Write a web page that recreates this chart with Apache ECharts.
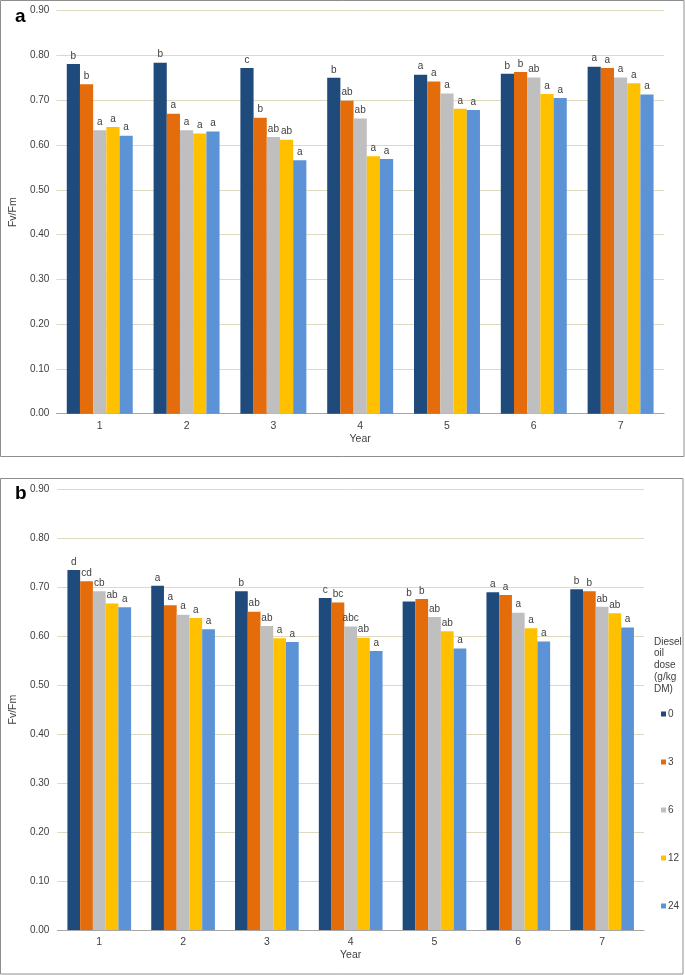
<!DOCTYPE html>
<html>
<head>
<meta charset="utf-8">
<script src="https://cdn.jsdelivr.net/npm/echarts@6/dist/echarts.min.js"></script>
<style>
  html, body { margin: 0; padding: 0; background: #fff; }
  #chart { width: 685px; height: 975px; }
</style>
</head>
<body>
<div id="chart"></div>
<script>
// ---- data ----
const years = ['1', '2', '3', '4', '5', '6', '7'];
const doses = ['0', '3', '6', '12', '24'];
const yTicks = [0, 0.9, 0.1]; // min, max, interval

// Panel a values (Fv/Fm) per dose, across years
const a0  = [0.781, 0.784, 0.772, 0.750, 0.757, 0.759, 0.775];
const a3  = [0.736, 0.670, 0.661, 0.699, 0.742, 0.763, 0.772];
const a6  = [0.633, 0.633, 0.618, 0.659, 0.715, 0.751, 0.751];
const a12 = [0.640, 0.626, 0.612, 0.575, 0.681, 0.714, 0.738];
const a24 = [0.621, 0.630, 0.566, 0.569, 0.678, 0.705, 0.713];

// Panel b values
const b0  = [0.735, 0.703, 0.692, 0.678, 0.671, 0.690, 0.696];
const b3  = [0.712, 0.663, 0.650, 0.669, 0.676, 0.684, 0.692];
const b6  = [0.692, 0.644, 0.621, 0.620, 0.639, 0.648, 0.660];
const b12 = [0.667, 0.637, 0.596, 0.597, 0.610, 0.616, 0.647];
const b24 = [0.659, 0.614, 0.588, 0.570, 0.575, 0.589, 0.618];

// significance letters
const la0  = ['b', 'b', 'c', 'b', 'a', 'b', 'a'];
const la3  = ['b', 'a', 'b', 'ab', 'a', 'b', 'a'];
const la6  = ['a', 'a', 'ab', 'ab', 'a', 'ab', 'a'];
const la12 = ['a', 'a', 'ab', 'a', 'a', 'a', 'a'];
const la24 = ['a', 'a', 'a', 'a', 'a', 'a', 'a'];

const lb0  = ['d', 'a', 'b', 'c', 'b', 'a', 'b'];
const lb3  = ['cd', 'a', 'ab', 'bc', 'b', 'a', 'b'];
const lb6  = ['cb', 'a', 'ab', 'abc', 'ab', 'a', 'ab'];
const lb12 = ['ab', 'a', 'a', 'ab', 'ab', 'a', 'ab'];
const lb24 = ['a', 'a', 'a', 'a', 'a', 'a', 'a'];

const colors = ['#1F4A7C', '#E46C0A', '#BFBFBF', '#FFC000', '#5B93D6'];

// ---- build ----
const valsA = [a0, a3, a6, a12, a24];
const valsB = [b0, b3, b6, b12, b24];
const letA = [la0, la3, la6, la12, la24];
const letB = [lb0, lb3, lb6, lb12, lb24];

const FONT = 'Liberation Sans, Arial, sans-serif';
const TXT = '#404040';
const GRID = '#DDD9C3';

function xAx(gi) {
  return {
    type: 'category', gridIndex: gi, data: years,
    name: 'Year', nameLocation: 'middle', nameGap: 20,
    nameTextStyle: { fontFamily: FONT, fontSize: 10.5, color: TXT },
    axisLine: { lineStyle: { color: '#A6A6A6', width: 1 } },
    axisTick: { show: false },
    axisLabel: { fontFamily: FONT, fontSize: 10.5, color: TXT, margin: 7 }
  };
}
function yAx(gi, gap, margin) {
  return {
    type: 'value', gridIndex: gi, min: yTicks[0], max: yTicks[1], interval: yTicks[2],
    name: 'Fv/Fm', nameLocation: 'middle', nameGap: gap,
    nameTextStyle: { fontFamily: FONT, fontSize: 10.5, color: TXT },
    axisLine: { show: false }, axisTick: { show: false },
    splitLine: { lineStyle: { color: GRID, width: 1 } },
    axisLabel: { fontFamily: FONT, fontSize: 10, color: TXT, margin: margin,
      formatter: v => v.toFixed(2) }
  };
}

const series = [];
[[valsA, letA, 0], [valsB, letB, 1]].forEach(([vals, lets, gi]) => {
  vals.forEach((arr, i) => {
    series.push({
      type: 'bar', name: doses[i], xAxisIndex: gi, yAxisIndex: gi,
      data: arr, barGap: '0%', barCategoryGap: '24%',
      itemStyle: { color: colors[i] },
      label: {
        show: true, position: 'top', distance: 3,
        fontFamily: FONT, fontSize: 10, color: TXT,
        formatter: p => lets[i][p.dataIndex]
      }
    });
  });
});

const chart = echarts.init(document.getElementById('chart'), null, { renderer: 'canvas' });
chart.setOption({
  animation: false,
  color: colors,
  textStyle: { fontFamily: FONT },
  grid: [
    { left: 53, right: 21, top: 10.7, bottom: 561.3, containLabel: false },
    { left: 55, right: 41, top: 489.3, bottom: 45, containLabel: false }
  ],
  xAxis: [xAx(0), xAx(1)],
  yAxis: [yAx(0, 29, 7), yAx(1, 32, 8)],
  title: [
    { text: 'a', left: 10, top: 2, textStyle: { fontFamily: FONT, fontSize: 19, fontWeight: 'bold', color: '#000' } },
    { text: 'b', left: 10, top: 479, textStyle: { fontFamily: FONT, fontSize: 19, fontWeight: 'bold', color: '#000' } },
    { text: 'Diesel\noil\ndose\n(g/kg\nDM)', left: 649, top: 631,
      textStyle: { fontFamily: FONT, fontSize: 10, fontWeight: 'normal', color: TXT, lineHeight: 11.8 } }
  ],
  legend: {
    orient: 'vertical', left: 656, top: 703,
    data: doses, icon: 'rect', itemWidth: 5, itemHeight: 5, itemGap: 36,
    textStyle: { fontFamily: FONT, fontSize: 10, color: TXT, lineHeight: 12, padding: [0, 0, 0, -3] }
  },
  graphic: [
    { type: 'rect', shape: { x: 0.5, y: 0.5, width: 683.5, height: 456 }, style: { fill: 'none', stroke: '#8E8E8E', lineWidth: 1 }, silent: true },
    { type: 'rect', shape: { x: 0.5, y: 478.5, width: 682.5, height: 495.5 }, style: { fill: 'none', stroke: '#8E8E8E', lineWidth: 1 }, silent: true }
  ],
  series: series
});
</script>
</body>
</html>
